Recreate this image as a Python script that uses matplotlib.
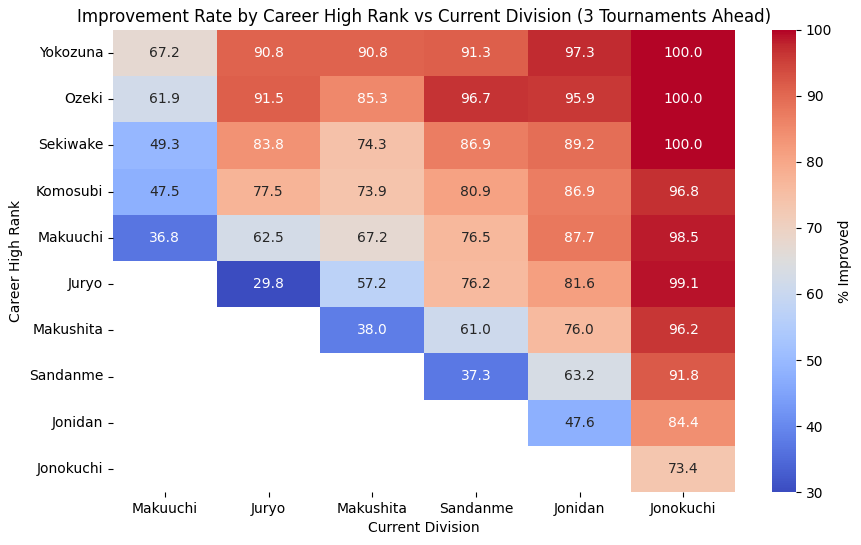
import numpy as np
import pandas as pd
import seaborn as sns
import matplotlib
matplotlib.use("Agg")
import matplotlib.pyplot as plt

career_high = ["Yokozuna", "Ozeki", "Sekiwake", "Komosubi", "Makuuchi",
               "Juryo", "Makushita", "Sandanme", "Jonidan", "Jonokuchi"]
current_div = ["Makuuchi", "Juryo", "Makushita", "Sandanme", "Jonidan", "Jonokuchi"]

nan = np.nan
rates = [
    [67.2, 90.8, 90.8, 91.3, 97.3, 100.0],
    [61.9, 91.5, 85.3, 96.7, 95.9, 100.0],
    [49.3, 83.8, 74.3, 86.9, 89.2, 100.0],
    [47.5, 77.5, 73.9, 80.9, 86.9, 96.8],
    [36.8, 62.5, 67.2, 76.5, 87.7, 98.5],
    [nan, 29.8, 57.2, 76.2, 81.6, 99.1],
    [nan, nan, 38.0, 61.0, 76.0, 96.2],
    [nan, nan, nan, 37.3, 63.2, 91.8],
    [nan, nan, nan, nan, 47.6, 84.4],
    [nan, nan, nan, nan, nan, 73.4],
]

df = pd.DataFrame(rates, index=career_high, columns=current_div)

W, H = 861, 545
fig = plt.figure(figsize=(W / 100, H / 100), dpi=100)
# place axes in pixel terms to match the reference layout
ax = fig.add_axes([113 / W, (H - 492) / H, (735 - 113) / W, (492 - 30) / H])
cax = fig.add_axes([772 / W, (H - 492) / H, (796 - 772) / W, (492 - 30) / H])

sns.heatmap(df, annot=True, fmt=".1f", cmap="coolwarm", vmin=30, vmax=100,
            cbar_ax=cax, cbar_kws={"label": "% Improved"}, ax=ax)
ax.set_title("Improvement Rate by Career High Rank vs Current Division (3 Tournaments Ahead)")
ax.set_xlabel("Current Division")
ax.set_ylabel("Career High Rank")
plt.savefig("out.png", dpi=100)
